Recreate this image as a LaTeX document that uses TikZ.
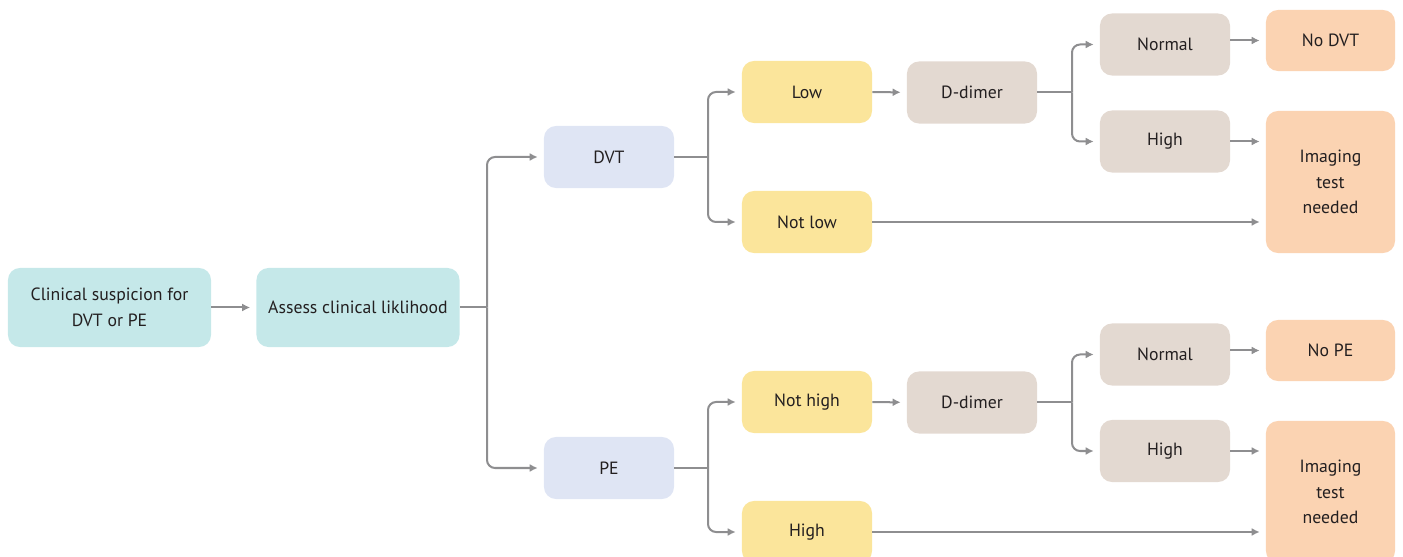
\documentclass[tikz,border=0pt]{standalone}
\usepackage{fontspec}
\setmainfont{PT Sans}
\usetikzlibrary{arrows.meta}

\definecolor{tealbox}{HTML}{C5E8E9}
\definecolor{bluebox}{HTML}{DFE5F4}
\definecolor{yellowbox}{HTML}{FBE59B}
\definecolor{greybox}{HTML}{E3D9D1}
\definecolor{peachbox}{HTML}{FBD3B2}
\definecolor{linegrey}{HTML}{8E8E90}
\definecolor{ink}{HTML}{231F20}

\begin{document}
\begin{tikzpicture}[x=0.025cm, y=-0.025cm,
    box/.style={rounded corners=0.3cm, text=ink, align=center, inner sep=0pt,
      minimum width=3.25cm, minimum height=1.55cm,
      font=\fontsize{12.6}{18.2}\selectfont},
    wide/.style={box, fill=tealbox, minimum width=5.075cm, minimum height=1.975cm},
    result/.style={box, fill=peachbox, minimum width=3.225cm, minimum height=1.525cm},
    tall/.style={result, minimum height=3.55cm},
    link/.style={draw=linegrey, line width=0.05cm},
    arr/.style={link, -{Latex[length=0.2cm,width=0.2cm]}, shorten >=0.15cm, rounded corners=0.2cm}]
    \useasboundingbox (0,0) rectangle (1403,557);

    % start of the path
    \node[wide] (susp) at (109.5,307.5) {Clinical suspicion for\\DVT or PE};
    \node[wide] (assess) at (358,307.5) {Assess clinical liklihood};

    % DVT branch
    \node[box, fill=bluebox] (dvt) at (609,157) {DVT};
    \node[box, fill=yellowbox] (low) at (807,92) {Low};
    \node[box, fill=yellowbox] (notlow) at (807,222) {Not low};
    \node[box, fill=greybox] (ddimerA) at (972,92.5) {D-dimer};
    \node[box, fill=greybox] (normalA) at (1165,44.5) {Normal};
    \node[box, fill=greybox] (highA) at (1165,141.5) {High};
    \node[result] (nodvt) at (1330.5,40.5) {No DVT};
    \node[tall] (imagingA) at (1330.5,182) {Imaging\\test\\needed};

    % PE branch
    \node[box, fill=bluebox] (pe) at (609,468) {PE};
    \node[box, fill=yellowbox] (nothigh) at (807,402) {Not high};
    \node[box, fill=yellowbox] (highpe) at (807,532) {High};
    \node[box, fill=greybox] (ddimerB) at (972,402.5) {D-dimer};
    \node[box, fill=greybox] (normalB) at (1165,354.5) {Normal};
    \node[box, fill=greybox] (highB) at (1165,451) {High};
    \node[result] (nope) at (1330.5,350.5) {No PE};
    \node[tall] (imagingB) at (1330.5,492) {Imaging\\test\\needed};

    % fork points
    \coordinate (forkA) at (487,307.5);
    \coordinate (forkB) at (708,157);
    \coordinate (forkC) at (708,468);
    \coordinate (forkD) at (1072,92.5);
    \coordinate (forkE) at (1072,402.5);

    \draw[arr] (susp) -- (assess);
    \draw[link] (assess.east) -- (forkA);
    \draw[arr] (forkA) |- (dvt);
    \draw[arr] (forkA) |- (pe);

    \draw[link] (dvt.east) -- (forkB);
    \draw[arr] (forkB) |- (low);
    \draw[arr] (forkB) |- (notlow);
    \draw[arr] (low) -- (ddimerA);
    \draw[link] (ddimerA.east) -- (forkD);
    \draw[arr] (forkD) |- (normalA);
    \draw[arr] (forkD) |- (highA);
    \draw[arr] (nodvt.west -| normalA.east) -- (nodvt.west);
    \draw[arr] (highA.east) -- (highA.east -| imagingA.west);
    \draw[arr] (notlow.east) -- (notlow.east -| imagingA.west);

    \draw[link] (pe.east) -- (forkC);
    \draw[arr] (forkC) |- (nothigh);
    \draw[arr] (forkC) |- (highpe);
    \draw[arr] (nothigh) -- (ddimerB);
    \draw[link] (ddimerB.east) -- (forkE);
    \draw[arr] (forkE) |- (normalB);
    \draw[arr] (forkE) |- (highB);
    \draw[arr] (nope.west -| normalB.east) -- (nope.west);
    \draw[arr] (highB.east) -- (highB.east -| imagingB.west);
    \draw[arr] (highpe.east) -- (highpe.east -| imagingB.west);
\end{tikzpicture}
\end{document}
